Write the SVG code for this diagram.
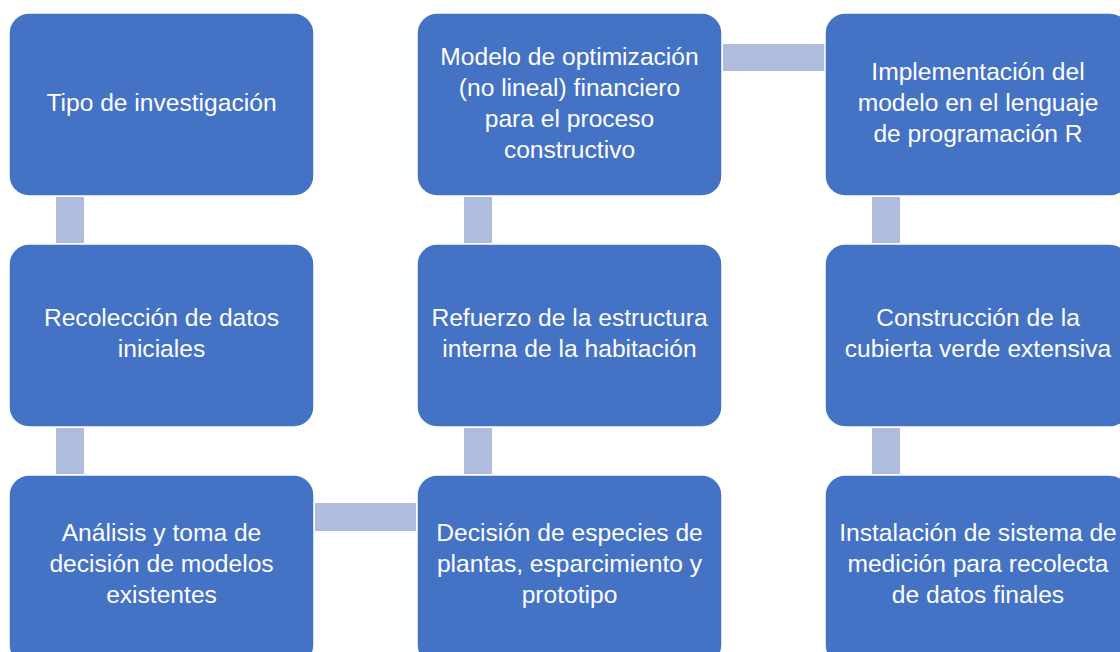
<svg xmlns="http://www.w3.org/2000/svg" width="1120" height="652" viewBox="0 0 1120 652">
<style>
.box{fill:#4472C4;stroke:#ffffff;stroke-width:1.5}
.con{fill:#B0BCDE}
.t{fill:#ffffff;font-family:"Liberation Sans","Open Sans",Arial,sans-serif;font-size:24.6px;text-anchor:middle}
</style>
<rect x="0" y="0" width="1120" height="652" fill="#ffffff"/>
<g id="connectors">
<rect class="con" x="56" y="197" width="28" height="46"/>
<rect class="con" x="56" y="428" width="28" height="46"/>
<rect class="con" x="315" y="503" width="101" height="28"/>
<rect class="con" x="464" y="428" width="28" height="46"/>
<rect class="con" x="464" y="197" width="28" height="46"/>
<rect class="con" x="723" y="44" width="102" height="27"/>
<rect class="con" x="872" y="197" width="28" height="46"/>
<rect class="con" x="872" y="428" width="28" height="46"/>
</g>
<g id="n1"><rect class="box" x="9" y="13" width="305" height="183" rx="20"/>
<text class="t" x="161.5" y="111">Tipo de investigación</text></g>
<g id="n2"><rect class="box" x="9" y="244" width="305" height="183" rx="20"/>
<text class="t" x="161.5" y="326">Recolección de datos</text>
<text class="t" x="161.5" y="357">iniciales</text></g>
<g id="n3"><rect class="box" x="9" y="475" width="305" height="190" rx="20"/>
<text class="t" x="161.5" y="541">Análisis y toma de</text>
<text class="t" x="161.5" y="572">decisión de modelos</text>
<text class="t" x="161.5" y="603">existentes</text></g>
<g id="n4"><rect class="box" x="417" y="475" width="305" height="190" rx="20"/>
<text class="t" x="569.5" y="541">Decisión de especies de</text>
<text class="t" x="569.5" y="572">plantas, esparcimiento y</text>
<text class="t" x="569.5" y="603">prototipo</text></g>
<g id="n5"><rect class="box" x="417" y="244" width="305" height="183" rx="20"/>
<text class="t" x="569.5" y="326">Refuerzo de la estructura</text>
<text class="t" x="569.5" y="357">interna de la habitación</text></g>
<g id="n6"><rect class="box" x="417" y="13" width="305" height="183" rx="20"/>
<text class="t" x="569.5" y="65">Modelo de optimización</text>
<text class="t" x="569.5" y="96">(no lineal) financiero</text>
<text class="t" x="569.5" y="127">para el proceso</text>
<text class="t" x="569.5" y="158">constructivo</text></g>
<g id="n7"><rect class="box" x="825" y="13" width="305" height="183" rx="20"/>
<text class="t" x="978" y="80">Implementación del</text>
<text class="t" x="978" y="111">modelo en el lenguaje</text>
<text class="t" x="978" y="142">de programación R</text></g>
<g id="n8"><rect class="box" x="825" y="244" width="305" height="183" rx="20"/>
<text class="t" x="978" y="326">Construcción de la</text>
<text class="t" x="978" y="357">cubierta verde extensiva</text></g>
<g id="n9"><rect class="box" x="825" y="475" width="305" height="190" rx="20"/>
<text class="t" x="978" y="541">Instalación de sistema de</text>
<text class="t" x="978" y="572">medición para recolecta</text>
<text class="t" x="978" y="603">de datos finales</text></g>
</svg>
